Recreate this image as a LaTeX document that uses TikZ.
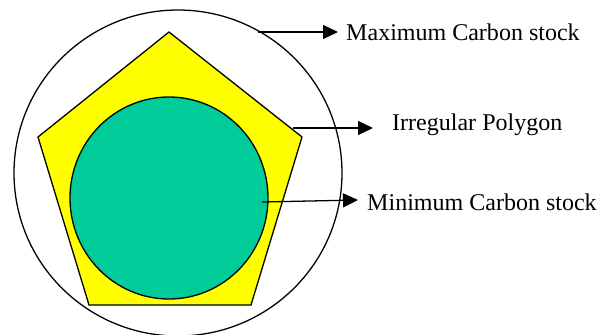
\documentclass[tikz,border=0pt]{standalone}
\usepackage{fontspec}
\setmainfont{Liberation Serif}
\usetikzlibrary{arrows.meta}
\definecolor{polyfill}{HTML}{FFFF00}
\definecolor{minfill}{HTML}{00CC99}
\tikzset{
  edge/.style = {draw=black, line width=1.1pt},
  lbl/.style  = {anchor=base west, inner sep=0pt, font=\fontsize{20.5}{24}\selectfont},
  ptr/.style  = {-{Triangle[length=4.5mm,width=4.2mm]}, line width=1.1pt},
}
\begin{document}
\begin{tikzpicture}[x=0.3mm,y=-0.3mm]
      \useasboundingbox (0,0) rectangle (610,335);
      % outer bound, polygon, inner bound
      \draw[edge,fill=white] (178,173) ellipse (164 and 163);
      \draw[edge,fill=polyfill]
        (169,32) -- (302,137) -- (251,305) -- (89,305) -- (38,137) -- cycle;
      \draw[edge,fill=minfill] (169,198) ellipse (99 and 101);
      % labels
      \node[lbl] (maxc) at (346,40)  {Maximum Carbon stock};
      \node[lbl] (poly) at (392,130) {Irregular Polygon};
      \node[lbl] (minc) at (367,210) {Minimum Carbon stock};
      \coordinate (maxsrc) at (258,32);  \coordinate (maxtip) at (338,32);
      \coordinate (polysrc) at (293,128); \coordinate (polytip) at (373,128);
      \coordinate (minsrc) at (262,202); \coordinate (mintip) at (358,200);
      \draw[ptr] (maxsrc) -- (maxtip);
      \draw[ptr] (polysrc) -- (polytip);
      \draw[ptr] (minsrc) -- (mintip);
    \end{tikzpicture}
\end{document}
